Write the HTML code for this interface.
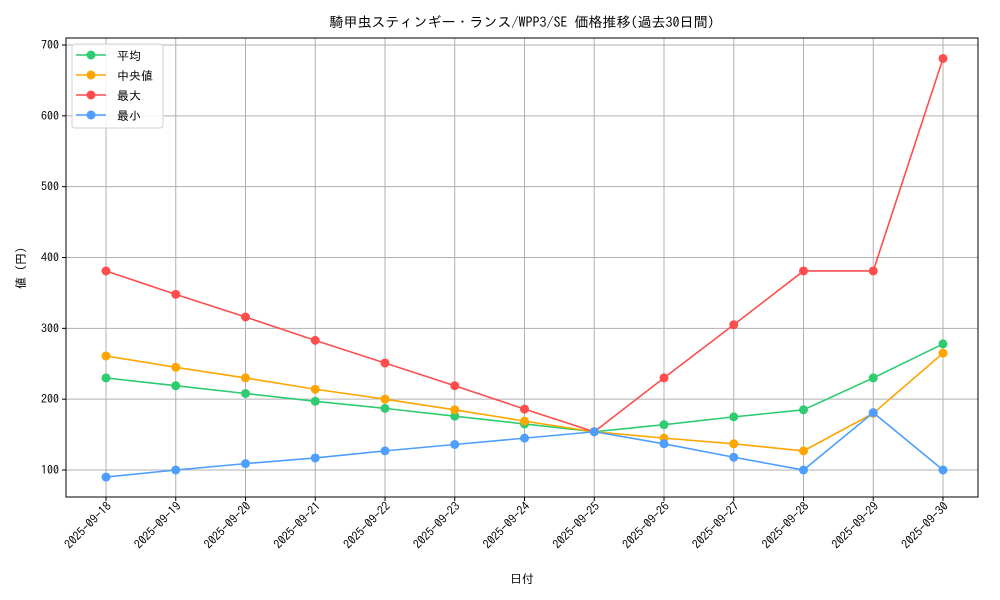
<!DOCTYPE html>
<html><head><meta charset="utf-8">
<style>
html,body{margin:0;padding:0;background:#fff;}
svg{display:block;font-family:"IPAGothic","Noto Sans CJK JP",monospace;}
</style></head>
<body>
<svg id="chart" width="1000" height="600"></svg>
<script>
const categories = ["2025-09-18","2025-09-19","2025-09-20","2025-09-21","2025-09-22","2025-09-23","2025-09-24","2025-09-25","2025-09-26","2025-09-27","2025-09-28","2025-09-29","2025-09-30"];
const avgValues = [230,219,208,197,187,176,165,154,164,175,185,230,278];
const medianValues = [261,245,230,214,200,185,169,154,145,137,127,180,265];
const maxValues = [381,348,316,283,251,219,186,154,230,305,381,381,681];
const minValues = [90,100,109,117,127,136,145,154,137,118,100,181,100];
const yTicks = [100,200,300,400,500,600,700];
const seriesNames = ["平均","中央値","最大","最小"];

const NS="http://www.w3.org/2000/svg";
const svg=document.getElementById('chart');
const L=66,R=978,T=38,B=497;
function xPos(i){return 106+i*(943-106)/(categories.length-1);}
function yPos(v){return 470-(v-100)*(425/600);}
function mk(tag,attrs,parent){const e=document.createElementNS(NS,tag);for(const k in attrs)e.setAttribute(k,attrs[k]);(parent||svg).appendChild(e);return e;}

categories.forEach((c,i)=>{
  const g=mk('line',{x1:xPos(i),x2:xPos(i),y1:T,y2:B,stroke:'#b0b0b0','stroke-width':1});
  
  
  const t=mk('line',{x1:xPos(i),x2:xPos(i),y1:B,y2:B+4,stroke:'#000'});
  
  
  const lb=mk('text',{x:0,y:0,'font-size':12,'text-anchor':'end',transform:`translate(${xPos(i)+6},${B+10}) rotate(-45)`});
  lb.textContent=c;
  
  
});
yTicks.forEach(v=>{
  const g=mk('line',{x1:L,x2:R,y1:yPos(v),y2:yPos(v),stroke:'#b0b0b0','stroke-width':1});
  
  
  const t=mk('line',{x1:L-4,x2:L,y1:yPos(v),y2:yPos(v),stroke:'#000'});
  
  
  const lb=mk('text',{x:L-7,y:yPos(v)+4,'font-size':12,'text-anchor':'end'});
  lb.textContent=v;
  
  
});
const frame=mk('rect',{x:L,y:T,width:R-L,height:B-T,fill:'none',stroke:'#000','stroke-width':1});



const series=[[avgValues,'#2ecc71','avg'],[medianValues,'#ffa500','median'],[maxValues,'#ff4d4d','max'],[minValues,'#4d9eff','min']];
series.forEach(([vals,col,nm])=>{
  const p=mk('polyline',{points:vals.map((v,i)=>xPos(i)+','+yPos(v)).join(' '),fill:'none',stroke:col,'stroke-width':1.6});
  
  
  vals.forEach((v,i)=>{
    const c=mk('circle',{cx:xPos(i),cy:yPos(v),r:4.5,fill:col});
    
    
  });
});

const lg=mk('g',{});


mk('rect',{x:72,y:44,width:91,height:84,rx:3,fill:'#fff','fill-opacity':0.85,stroke:'#d0d0d0'},lg);
series.forEach(([v,col,nm],k)=>{
  const y=55+k*20;
  const e=mk('g',{},lg);
  
  
  mk('line',{x1:76,x2:106,y1:y,y2:y,stroke:col,'stroke-width':1.6},e);
  mk('circle',{cx:91,cy:y,r:4.5,fill:col},e);
  const t=mk('text',{x:117,y:y+5,'font-size':12},e);
  t.textContent=seriesNames[k];
});

const title=mk('text',{x:522,y:27,'font-size':14,'text-anchor':'middle'});
title.textContent='騎甲虫スティンギー・ランス/WPP3/SE 価格推移(過去30日間)';


const xt=mk('text',{x:522,y:583,'font-size':12,'text-anchor':'middle'});
xt.textContent='日付';


const yt=mk('text',{x:0,y:0,'font-size':12,'text-anchor':'middle',transform:'translate(25,268) rotate(-90)'});
yt.textContent='値 (円)';


</script>
</body></html>
